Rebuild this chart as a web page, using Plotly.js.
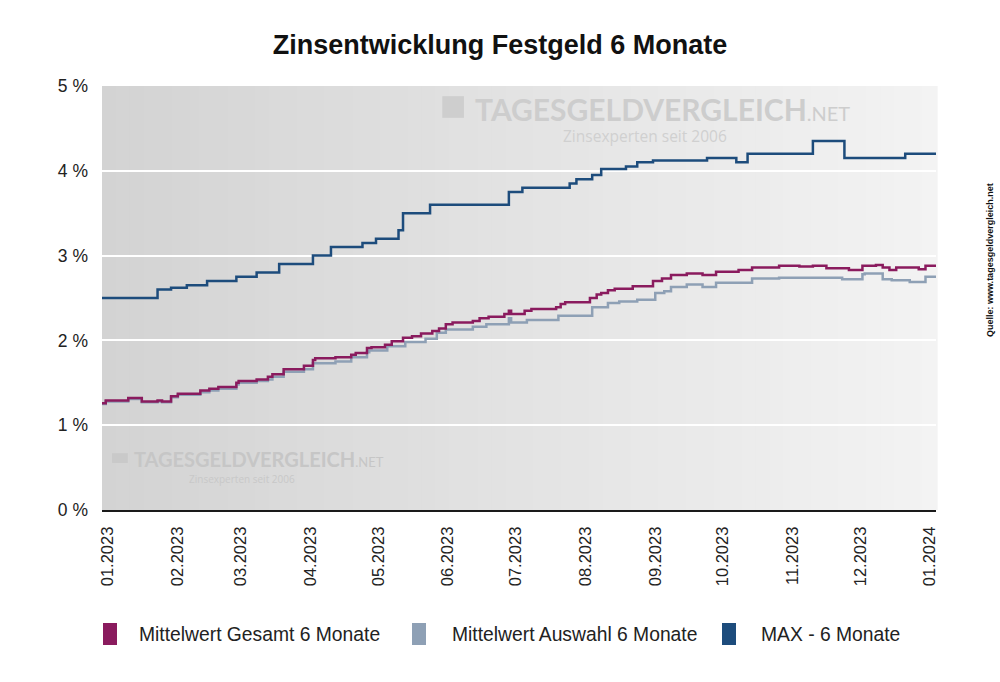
<!DOCTYPE html>
<html>
<head>
<meta charset="utf-8">
<script src="https://cdn.plot.ly/plotly-3.0.1.min.js"></script>
<style>
  body { margin: 0; background: #fff; }
  #chart { width: 1000px; height: 682px; }
</style>
</head>
<body>
<div id="chart"></div>
<script>
// Values (step dates and rates in %)
var gesamtDates = [
  "2022-12-29", "2022-12-31", "2023-01-10", "2023-01-16", "2023-01-23", "2023-01-25",
  "2023-01-29", "2023-02-01", "2023-02-11", "2023-02-15", "2023-02-19", "2023-02-27",
  "2023-02-28", "2023-03-08", "2023-03-13", "2023-03-15", "2023-03-20", "2023-03-29",
  "2023-04-02", "2023-04-03", "2023-04-12", "2023-04-19", "2023-04-21", "2023-04-26",
  "2023-04-28", "2023-05-04", "2023-05-07", "2023-05-12", "2023-05-16", "2023-05-20",
  "2023-05-25", "2023-05-28", "2023-05-31", "2023-06-03", "2023-06-12", "2023-06-15",
  "2023-06-19", "2023-06-26", "2023-06-28", "2023-06-29", "2023-07-05", "2023-07-08",
  "2023-07-19", "2023-07-21", "2023-07-23", "2023-08-03", "2023-08-06", "2023-08-08",
  "2023-08-11", "2023-08-14", "2023-08-22", "2023-08-31", "2023-09-04", "2023-09-08",
  "2023-09-15", "2023-09-22", "2023-09-28", "2023-10-08", "2023-10-14", "2023-10-26",
  "2023-11-04", "2023-11-10", "2023-11-16", "2023-11-26", "2023-12-02", "2023-12-08",
  "2023-12-11", "2023-12-14", "2023-12-17", "2023-12-27", "2023-12-30", "2024-01-04"
];
var gesamtValues = [
  1.26, 1.29, 1.32, 1.28, 1.29, 1.28,
  1.34, 1.37, 1.41, 1.43, 1.45, 1.50,
  1.52, 1.54, 1.57, 1.60, 1.66, 1.70,
  1.77, 1.79, 1.80, 1.83, 1.85, 1.91,
  1.92, 1.95, 1.99, 2.03, 2.05, 2.08,
  2.11, 2.14, 2.19, 2.21, 2.23, 2.26,
  2.28, 2.31, 2.35, 2.31, 2.35, 2.37,
  2.39, 2.43, 2.45, 2.50, 2.54, 2.56,
  2.59, 2.61, 2.64, 2.70, 2.73, 2.77,
  2.79, 2.77, 2.81, 2.83, 2.86, 2.88,
  2.87, 2.88, 2.85, 2.83, 2.88, 2.89,
  2.86, 2.83, 2.86, 2.84, 2.88, 2.88
];

var auswahlDates = [
  "2022-12-29", "2022-12-31", "2023-01-10", "2023-01-16", "2023-01-23", "2023-01-25",
  "2023-01-29", "2023-02-01", "2023-02-11", "2023-02-15", "2023-02-19", "2023-02-27",
  "2023-02-28", "2023-03-08", "2023-03-13", "2023-03-15", "2023-03-20", "2023-03-29",
  "2023-04-02", "2023-04-12", "2023-04-19", "2023-04-26", "2023-04-27", "2023-05-05",
  "2023-05-13", "2023-05-22", "2023-05-27", "2023-05-31", "2023-06-12", "2023-06-18",
  "2023-06-28", "2023-06-29", "2023-07-06", "2023-07-20", "2023-08-04", "2023-08-11",
  "2023-08-16", "2023-08-24", "2023-09-01", "2023-09-05", "2023-09-08", "2023-09-15",
  "2023-09-22", "2023-09-28", "2023-10-14", "2023-10-26", "2023-11-23", "2023-12-02",
  "2023-12-03", "2023-12-11", "2023-12-15", "2023-12-23", "2023-12-30", "2024-01-04"
];
var auswahlValues = [
  1.25, 1.28, 1.31, 1.27, 1.28, 1.27,
  1.33, 1.36, 1.39, 1.41, 1.43, 1.48,
  1.50, 1.52, 1.54, 1.57, 1.63, 1.66,
  1.73, 1.75, 1.80, 1.86, 1.88, 1.93,
  1.98, 2.02, 2.09, 2.13, 2.16, 2.19,
  2.26, 2.21, 2.24, 2.29, 2.39, 2.44,
  2.46, 2.48, 2.56, 2.58, 2.63, 2.66,
  2.63, 2.68, 2.73, 2.74, 2.72, 2.78,
  2.79, 2.72, 2.71, 2.69, 2.75, 2.75
];

var maxDates = [
  "2022-12-29", "2023-01-23", "2023-01-29", "2023-02-05", "2023-02-14", "2023-02-27",
  "2023-03-08", "2023-03-18", "2023-04-02", "2023-04-10", "2023-04-24", "2023-04-30",
  "2023-05-10", "2023-05-12", "2023-05-24", "2023-06-28", "2023-07-04", "2023-07-25",
  "2023-07-28", "2023-08-04", "2023-08-08", "2023-08-19", "2023-08-24", "2023-08-31",
  "2023-09-24", "2023-10-07", "2023-10-12", "2023-11-10", "2023-11-24", "2023-12-21",
  "2024-01-04"
];
var maxValues = [
  2.50, 2.60, 2.62, 2.65, 2.70, 2.75,
  2.80, 2.90, 3.00, 3.10, 3.15, 3.20,
  3.30, 3.50, 3.60, 3.75, 3.80, 3.85,
  3.90, 3.95, 4.02, 4.05, 4.10, 4.12,
  4.15, 4.10, 4.20, 4.35, 4.15, 4.20,
  4.20
];

var seriesNames = ["Mittelwert Gesamt 6 Monate", "Mittelwert Auswahl 6 Monate", "MAX - 6 Monate"];
var seriesColors = ["#8a1b5e", "#8ea0b5", "#1d4c7c"];

function line_trace(dates, values, name, color) {
  return {
    x: dates,
    y: values,
    name: name,
    mode: "lines",
    line: { color: color, width: 2.5, shape: "hv" },
    showlegend: false,
    hoverinfo: "name+x+y"
  };
}

var data = [
  line_trace(auswahlDates, auswahlValues, seriesNames[1], seriesColors[1]),
  line_trace(gesamtDates, gesamtValues, seriesNames[0], seriesColors[0]),
  line_trace(maxDates, maxValues, seriesNames[2], seriesColors[2])
];

// grey gradient behind the plot, light towards the right
var shapes = [];
var bands = 60;
for (var b = 0; b < bands; b++) {
  var g = Math.round(211 + (243 - 211) * b / (bands - 1));
  shapes.push({
    type: "rect",
    xref: "x domain", yref: "y domain",
    x0: b / bands, x1: (b + 1) / bands + 0.002,
    y0: 0, y1: 1,
    fillcolor: "rgb(" + g + "," + g + "," + g + ")",
    line: { width: 0 },
    layer: "below"
  });
}

// little logo squares of the two watermarks (paper coords)
function logo(x0, x1, y0, y1, color) {
  return {
    type: "rect", xref: "paper", yref: "paper",
    x0: x0, x1: x1, y0: y0, y1: y1,
    fillcolor: color, line: { width: 0 }, layer: "below"
  };
}
shapes.push(logo(0.408, 0.434, 0.925, 0.976, "#cecece"));
shapes.push(logo(0.012, 0.031, 0.111, 0.134, "#c9c9c9"));

var annotations = [
  {
    xref: "paper", yref: "paper",
    x: 0.4448, y: 0.9458, xanchor: "left", yanchor: "middle",
    text: "<b>TAGESGELDVERGLEICH</b><span style='font-size:20px'>.NET</span>",
    showarrow: false,
    font: { family: "Lato, sans-serif", size: 30, color: "#cdcdcd" }
  },
  {
    xref: "paper", yref: "paper",
    x: 0.651, y: 0.882, xanchor: "center", yanchor: "middle",
    text: "Zinsexperten seit 2006",
    showarrow: false,
    font: { family: "Open Sans, sans-serif", size: 15.5, color: "#d0d0d0" }
  },
  {
    xref: "paper", yref: "paper",
    x: 0.036, y: 0.121, xanchor: "left", yanchor: "middle",
    text: "<b>TAGESGELDVERGLEICH</b><span style='font-size:13px'>.NET</span>",
    showarrow: false,
    font: { family: "Lato, sans-serif", size: 20, color: "#c6c6c6" }
  },
  {
    xref: "paper", yref: "paper",
    x: 0.168, y: 0.073, xanchor: "center", yanchor: "middle",
    text: "Zinsexperten seit 2006",
    showarrow: false,
    font: { family: "Open Sans, sans-serif", size: 10, color: "#c8c8c8" }
  },
  {
    xref: "paper", yref: "paper",
    x: 1.065, y: 0.59, xanchor: "center", yanchor: "middle",
    text: "<b>Quelle: www.tagesgeldvergleich.net</b>",
    textangle: -90,
    showarrow: false,
    font: { size: 9, color: "#111111" }
  }
];

// legend below the axis: tall colour boxes with their names
var legendBoxX = [0.0012, 0.3717, 0.7434];
var legendTextX = [0.042, 0.4173, 0.7878];
for (var k = 0; k < seriesNames.length; k++) {
  shapes.push({
    type: "rect", xref: "paper", yref: "paper",
    x0: legendBoxX[k], x1: legendBoxX[k] + 0.0168,
    y0: -0.3184, y1: -0.2665,
    fillcolor: seriesColors[k], line: { width: 0 }, layer: "above"
  });
  annotations.push({
    xref: "paper", yref: "paper",
    x: legendTextX[k], y: -0.2925, xanchor: "left", yanchor: "middle",
    text: seriesNames[k],
    showarrow: false,
    font: { size: 19.3, color: "#222222" }
  });
}

var layout = {
  width: 1000,
  height: 682,
  margin: { l: 102, r: 64, t: 86, b: 172 },
  paper_bgcolor: "#ffffff",
  plot_bgcolor: "#e2e2e2",
  font: { family: "Liberation Sans, Arial, sans-serif", color: "#222222" },
  showlegend: false,
  title: {
    text: "<b>Zinsentwicklung Festgeld 6 Monate</b>",
    font: { size: 27, color: "#111111" },
    x: 0.5, xanchor: "center",
    y: 0.935, yanchor: "middle"
  },
  xaxis: {
    type: "date",
    range: ["2022-12-29 08:00", "2024-01-03 16:00"],
    tick0: "2023-01-01",
    dtick: "M1",
    tickformat: "%m.%Y",
    tickangle: -90,
    tickfont: { size: 16.5, color: "#222222" },
    ticklabelstandoff: 8,
    showgrid: false,
    showline: true,
    linecolor: "#1a1a1a",
    linewidth: 2,
    ticks: "",
    zeroline: false,
    fixedrange: true
  },
  yaxis: {
    range: [0, 5],
    dtick: 1,
    ticksuffix: " %",
    tickfont: { size: 17.5, color: "#222222" },
    showgrid: true,
    gridcolor: "#ffffff",
    gridwidth: 2,
    zeroline: false,
    ticks: "",
    ticklabelstandoff: 13,
    fixedrange: true
  },
  shapes: shapes,
  annotations: annotations
};

Plotly.newPlot("chart", data, layout, { displayModeBar: false, staticPlot: true });
</script>
</body>
</html>
